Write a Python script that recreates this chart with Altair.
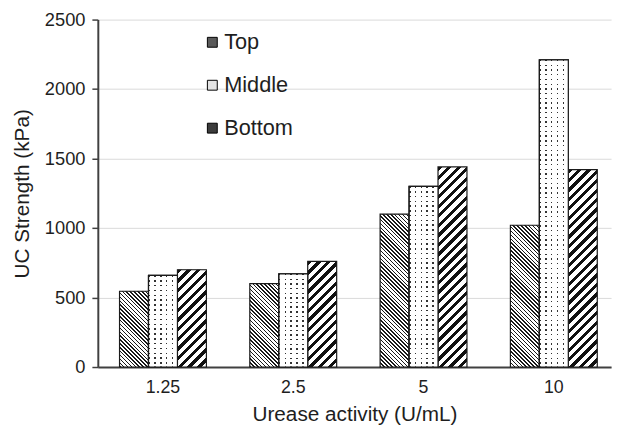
import altair as alt
import pandas as pd

# ---------------- data ----------------
categories = ["1.25", "2.5", "5", "10"]
series = ["Top", "Middle", "Bottom"]
top_vals = [545, 600, 1100, 1020]
middle_vals = [660, 670, 1300, 2210]
bottom_vals = [700, 760, 1440, 1420]
y_ticks = [0, 500, 1000, 1500, 2000, 2500]

records = []
for i, c in enumerate(categories):
    for s, vals in zip(series, [top_vals, middle_vals, bottom_vals]):
        records.append({"activity": c, "position": s, "strength": vals[i]})
df = pd.DataFrame(records)

# ---------------- layout ----------------
W, H = 520, 352
YMAX = 2500
P_IN, P_OUT, ALIGN = 1 / 3, 0.1364, 0.611
STEP = W / (len(categories) - P_IN + 2 * P_OUT)
BAR_W = STEP * (1 - P_IN) / len(series)
FONT = "Liberation Sans"
TXT = "#1e1e1e"
AX = "#404040"


def stripes(n, frac, c_on, c_off):
    stops = []
    for k in range(n):
        a, b, e = k / n, (k + frac) / n, (k + 1) / n
        stops += [
            {"offset": round(a, 5), "color": c_on},
            {"offset": round(b, 5), "color": c_on},
            {"offset": round(b, 5), "color": c_off},
            {"offset": round(e, 5), "color": c_off},
        ]
    return stops


def diag(h, period, frac, line, bg, back):
    w = BAR_W
    r = h / w
    dx = (1 + r) / (1 + r * r)
    n = max(1, round((w + h) / (2 ** 0.5) / period))
    if back:  # lines like \\\
        g = {"gradient": "linear", "x1": 0, "y1": 1, "x2": dx, "y2": 1 - dx * r}
    else:  # lines like ///
        g = {"gradient": "linear", "x1": 0, "y1": 0, "x2": dx, "y2": dx * r}
    g["stops"] = stripes(n, frac, line, bg)
    return g


def rows_grad(h, period, frac, dot, bg):
    n = max(1, round(h / period))
    return {"gradient": "linear", "x1": 0, "y1": 0, "x2": 0, "y2": 1,
            "stops": stripes(n, frac, dot, bg)}


col_mask = {"gradient": "linear", "x1": 0, "y1": 0, "x2": 1, "y2": 0,
            "stops": stripes(max(1, round(BAR_W / 5.5)), 0.27,
                             "rgba(255,255,255,0)", "#ffffff")}

conds = []
for i, c in enumerate(categories):
    for s, vals in zip(series, [top_vals, middle_vals, bottom_vals]):
        h = vals[i] / YMAX * H
        if s == "Top":
            g = diag(h, 2.8, 0.4, "#1a1a1a", "#ffffff", True)
        elif s == "Bottom":
            g = diag(h, 6.8, 0.45, "#111111", "#ffffff", False)
        else:
            g = rows_grad(h, 4.8, 0.3, "#333333", "#ffffff")
        conds.append({"test": f"datum.activity === '{c}' && datum.position === '{s}'",
                      "value": g})

x_enc = alt.X(
    "activity:N", sort=categories,
    scale=alt.Scale(domain=categories, paddingInner=P_IN, paddingOuter=P_OUT, align=ALIGN),
    axis=alt.Axis(title="Urease activity (U/mL)", labelAngle=0, ticks=False, grid=False,
                  domainColor=AX, domainWidth=2, labelPadding=12, titlePadding=7,
                  labelFontSize=18, titleFontSize=21),
)
xo_enc = alt.XOffset("position:N", sort=series,
                     scale=alt.Scale(domain=series, paddingInner=0, paddingOuter=0))
y_enc = alt.Y(
    "strength:Q",
    scale=alt.Scale(domain=[0, YMAX], nice=False),
    axis=alt.Axis(title="UC Strength (kPa)", values=y_ticks, format="d", tickSize=6,
                  tickWidth=1.5, tickColor=AX, domainColor=AX, domainWidth=2,
                  labelPadding=7, titlePadding=12, labelFontSize=18.5, titleFontSize=21,
                  grid=True, gridColor="#d9d9d9", gridWidth=1),
)

base = alt.Chart(df).encode(x=x_enc, xOffset=xo_enc, y=y_enc)

layer_legend = base.mark_bar().encode(
    color=alt.Color(
        "position:N", sort=series,
        scale=alt.Scale(domain=series, range=["#5a5a5a", "#e4e4e4", "#3c3c3c"]),
        legend=alt.Legend(title=None, orient="none", legendX=105, legendY=12,
                          direction="vertical", symbolType="square", symbolSize=100,
                          symbolStrokeColor="#000000", symbolStrokeWidth=1,
                          labelFontSize=22, labelFont=FONT, labelColor=TXT,
                          rowPadding=21.5, labelOffset=1, padding=0),
    )
)

layer_pattern = base.mark_bar(stroke="#1a1a1a", strokeWidth=1.2).encode(
    fill=alt.value("#ffffff", condition=conds)
)

layer_mask = base.mark_bar(stroke="#1a1a1a", strokeWidth=1.2).encode(
    fill=alt.value(col_mask)
).transform_filter("datum.position === 'Middle'")

chart = alt.layer(layer_legend, layer_pattern, layer_mask).properties(
    width=W, height=H,
    autosize=alt.AutoSizeParams(type="none"),
    padding={"left": 91, "top": 9, "right": 6, "bottom": 56},
).configure_view(stroke=None).configure_axis(
    labelFont=FONT, titleFont=FONT, labelColor=TXT, titleColor=TXT,
    titleFontWeight="normal",
)

chart.save("out.html", embed_options={"renderer": "svg", "actions": False})
